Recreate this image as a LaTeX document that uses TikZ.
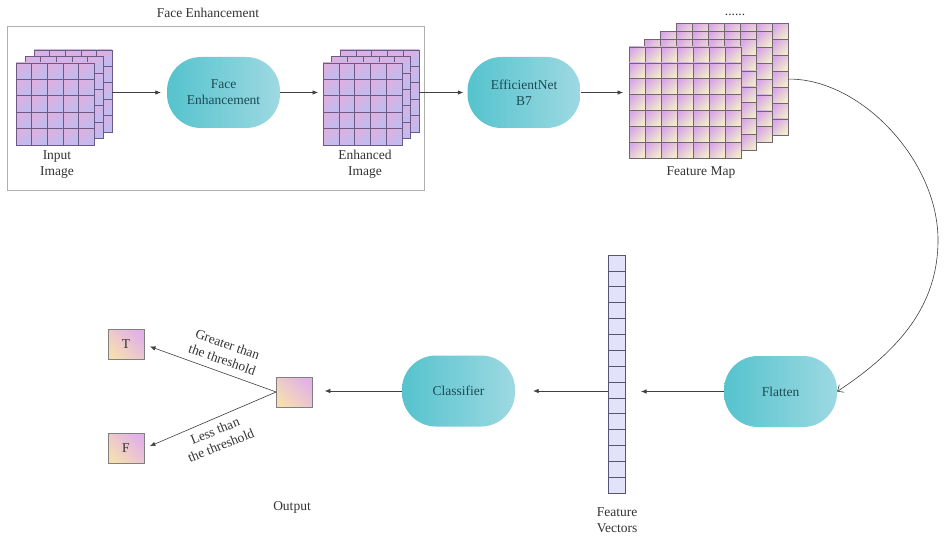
\documentclass[tikz,border=0pt]{standalone}
\usepackage{fontspec}
\setmainfont{Liberation Serif}
\usetikzlibrary{arrows.meta}
\definecolor{txt}{HTML}{333333}
\definecolor{tealtxt}{HTML}{1D4A55}
\definecolor{cyanL}{HTML}{55C3CD}
\definecolor{cyanR}{HTML}{9ED9E2}
\definecolor{lc}{HTML}{404040}
\definecolor{boxc}{HTML}{B0B0B0}
\definecolor{icA}{HTML}{DDB0E0}
\definecolor{icB}{HTML}{BEBCF0}
\definecolor{icD}{HTML}{6B5A85}
\definecolor{fmA}{HTML}{D9A8E8}
\definecolor{fmB}{HTML}{F2EDC8}
\definecolor{fmD}{HTML}{6F6670}
\definecolor{obA}{HTML}{E2B2E6}
\definecolor{obB}{HTML}{F6DDB2}
\definecolor{vcA}{HTML}{E2E2F8}
\definecolor{vcD}{HTML}{55557A}
\newcommand{\drawlayer}[7]{%
  \foreach \ii in {0,...,#5}{\foreach \jj in {0,...,#6}{%
    \path[#7] ({#1+\ii*#3},{#2+\jj*#4}) rectangle ++(#3,#4);}}}
\begin{document}
\begin{tikzpicture}[x=1pt,y=-1pt,
  every node/.style={font=\fontsize{13.5}{16}\selectfont, text=txt},
  stadium/.style={rounded corners=34pt, minimum width=113pt, minimum height=71pt,
    left color=cyanL, right color=cyanR, text=tealtxt, align=center, inner sep=0pt},
  layerbox/.style={inner sep=0pt, outer sep=0pt, anchor=north west},
  icell/.style={draw=icD, line width=0.6pt, top color=icA, bottom color=icB, shading angle=45},
  fcell/.style={draw=fmD, line width=0.6pt, top color=fmA, bottom color=fmB, shading angle=45},
  vcell/.style={draw=vcD, line width=0.5pt, fill=vcA},
  obox/.style={draw=gray, line width=0.7pt, top color=obA, bottom color=obB, shading angle=-45,
    minimum width=36pt, minimum height=30pt, inner sep=0pt},
  lbl/.style={align=center},
  arr/.style={draw=lc, line width=0.6pt, -{Latex[length=5.5pt,width=4.5pt]}}
]
\useasboundingbox (0,0) rectangle (945,537);
\fill[white] (0,0) rectangle (945,537);

% Face Enhancement frame
\node[layerbox, draw=boxc, line width=0.6pt, minimum width=417pt, minimum height=164pt] (febox) at (7,26) {};
\node (title) at (208,13) {Face Enhancement};

% Input image stack
\foreach \k in {2,1,0}{\drawlayer{16+9*\k}{63-6.5*\k}{15.6}{16.4}{4}{4}{icell}}
\node[layerbox, minimum width=78pt, minimum height=82pt] (inF) at (16,63) {};
\node[layerbox, minimum width=78pt, minimum height=82pt] (inB) at (34,50) {};
\node[lbl] (inlbl) at (57,164.5) {Input\\Image};

% Face enhancement node
\node[stadium] (fe) at (223.5,92.5) {Face\\Enhancement};

% Enhanced image stack
\foreach \k in {2,1,0}{\drawlayer{323+8.5*\k}{63-6.5*\k}{15.8}{16.4}{4}{4}{icell}}
\node[layerbox, minimum width=79pt, minimum height=82pt] (enF) at (323,63) {};
\node[layerbox, minimum width=79pt, minimum height=82pt] (enB) at (340,50) {};
\node[lbl] (enlbl) at (365,164.5) {Enhanced\\Image};

% EfficientNet
\node[stadium] (eff) at (524,92.5) {EfficientNet\\B7};

% Feature map stack
\foreach \k in {3,2,1,0}{\drawlayer{629+15.7*\k}{47-7.8*\k}{16}{15.9}{6}{6}{fcell}}
\node[layerbox, minimum width=112pt, minimum height=111pt] (fmF) at (629,47) {};
\node[layerbox, minimum width=112pt, minimum height=111pt] (fmBk) at (676,23.6) {};
\node (dots) at (735,15) {......};
\node (fmlbl) at (701,173) {Feature Map};

% Flatten
\node[stadium] (flat) at (780.5,391.5) {Flatten};

% Feature vector
\drawlayer{608}{255}{17}{15.87}{0}{14}{vcell}
\node[layerbox, minimum width=17pt, minimum height=238pt] (vec) at (608,255) {};
\node[lbl] (veclbl) at (617,520) {Feature\\Vectors};

% Classifier
\node[stadium] (cls) at (458.5,391) {Classifier};

% Output boxes
\node[obox] (outb) at (294.5,392) {};
\node[obox] (T) at (126,344.5) {T};
\node[obox] (F) at (126,448.5) {F};
\node (outlbl) at (292,507) {Output};

% Connectors
\draw[arr, shorten >=6pt] (fe.west -| inB.east) -- (fe.west);
\draw[arr, shorten >=5pt] (fe.east) -- (fe.east -| enF.west);
\draw[arr, shorten >=4pt] (eff.west -| enB.east) -- (eff.west);
\draw[arr, shorten >=6pt] (eff.east) -- (eff.east -| fmF.west);
\draw[draw=lc, line width=0.6pt, -{Straight Barb[length=5pt,width=9pt]}]
  (fmBk.east) .. controls (860,78) and (938,160) .. (938,240)
  .. controls (938,305) and (900,350) .. (flat.east);
\draw[arr, shorten >=16pt] (flat.west) -- (flat.west -| vec.east);
\draw[arr, shorten >=18pt] (vec.west |- cls.east) -- (cls.east);
\draw[arr, shorten >=12pt] (cls.west) -- (cls.west -| outb.east);
\draw[arr, shorten >=6pt] (outb.west) -- (T.east);
\draw[arr, shorten >=6pt] (outb.west) -- (F.east);
\node[lbl, rotate=-19.5] (glbl) at (225,352) {Greater than\\the threshold};
\node[lbl, rotate=22] (llbl) at (218,438) {Less than\\the threshold};
\end{tikzpicture}
\end{document}
